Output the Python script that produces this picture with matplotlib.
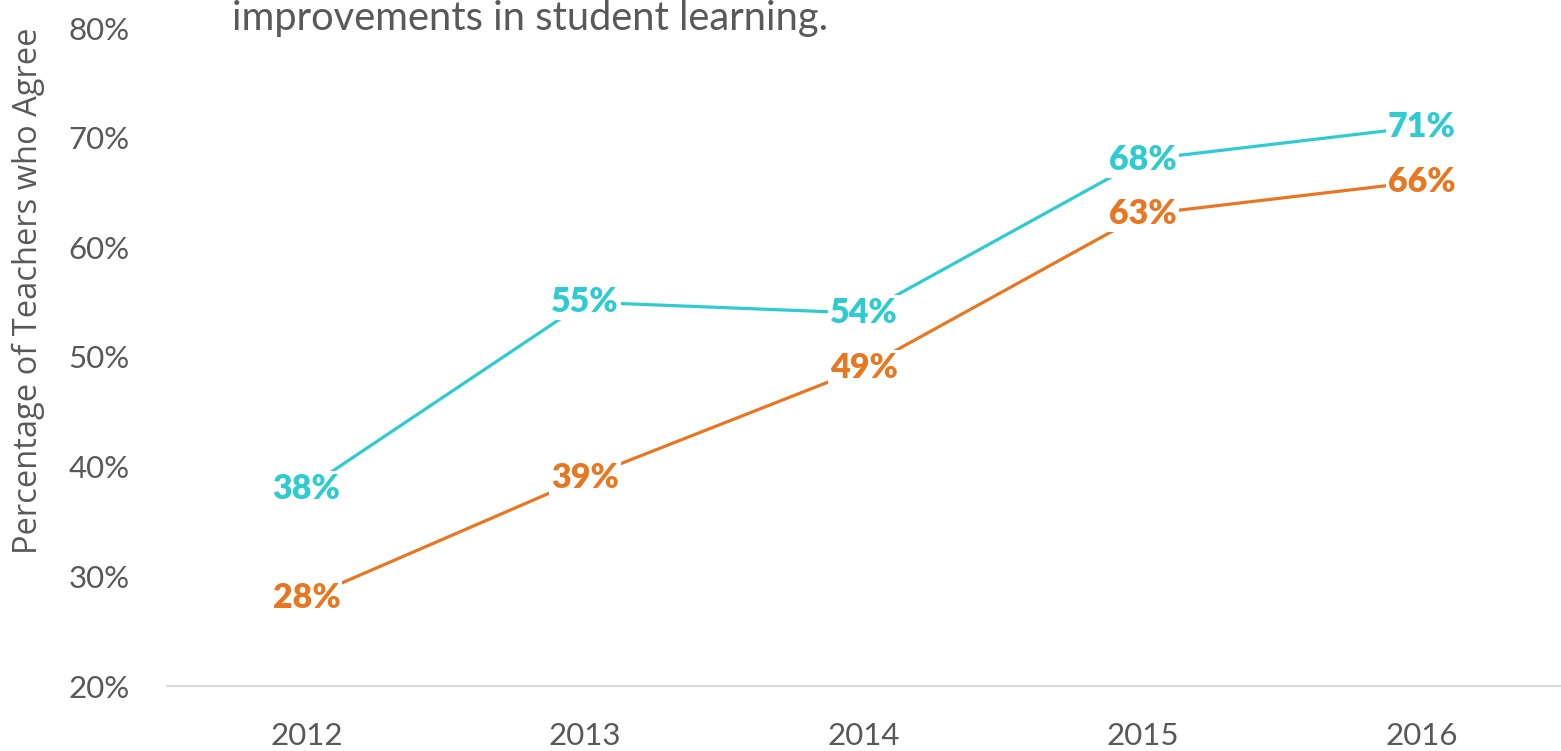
import matplotlib
matplotlib.use("Agg")
import matplotlib.pyplot as plt

years = ["2012", "2013", "2014", "2015", "2016"]
series_a = [38, 55, 54, 68, 71]   # cyan
series_b = [28, 39, 49, 63, 66]   # orange
y_ticks = [20, 30, 40, 50, 60, 70, 80]
title_line = "improvements in student learning."
y_label = "Percentage of Teachers who Agree"

CYAN = "#2ECBD2"
ORANGE = "#E87722"
GRAY = "#595959"

fig = plt.figure(figsize=(15.61, 7.51), dpi=100)
ax = fig.add_axes([167/1561, 1-686/751, 1-167/1561, (686-28)/751])

x = list(range(len(years)))
for vals, col in [(series_a, CYAN), (series_b, ORANGE)]:
    ax.plot(x, vals, color=col, lw=2.3, zorder=2, solid_capstyle="butt")
    for xi, v in zip(x, vals):
        ax.text(xi, v, f"{v}%", color=col, fontsize=24.5, fontweight="heavy",
                family="Lato", ha="center", va="center", zorder=3,
                bbox=dict(facecolor="white", edgecolor="none", pad=1.5))

ax.set_xlim(-0.5, len(years) - 0.5)
ax.set_ylim(20, 80)
ax.set_xticks(x)
ax.set_xticklabels(years)
ax.set_yticks(y_ticks)
ax.set_yticklabels([f"{t}%" for t in y_ticks])
ax.tick_params(axis="both", length=0, labelsize=22.5, labelcolor=GRAY)
ax.tick_params(axis="y", pad=27)
ax.tick_params(axis="x", pad=26)
for lab in ax.get_xticklabels() + ax.get_yticklabels():
    lab.set_family("Lato")
for s in ["top", "right", "left"]:
    ax.spines[s].set_visible(False)
ax.spines["bottom"].set_color("#D9D9D9")
ax.spines["bottom"].set_linewidth(1.5)

fig.text(232/1561, 1-30/751, title_line, fontsize=28.7, color=GRAY,
         family="Lato", ha="left", va="baseline")
fig.text(28/1561, 1-291/751, y_label, fontsize=23.5, color=GRAY,
         family="Open Sans", rotation=90, ha="center", va="center")

fig.savefig("out.png", dpi=100)
